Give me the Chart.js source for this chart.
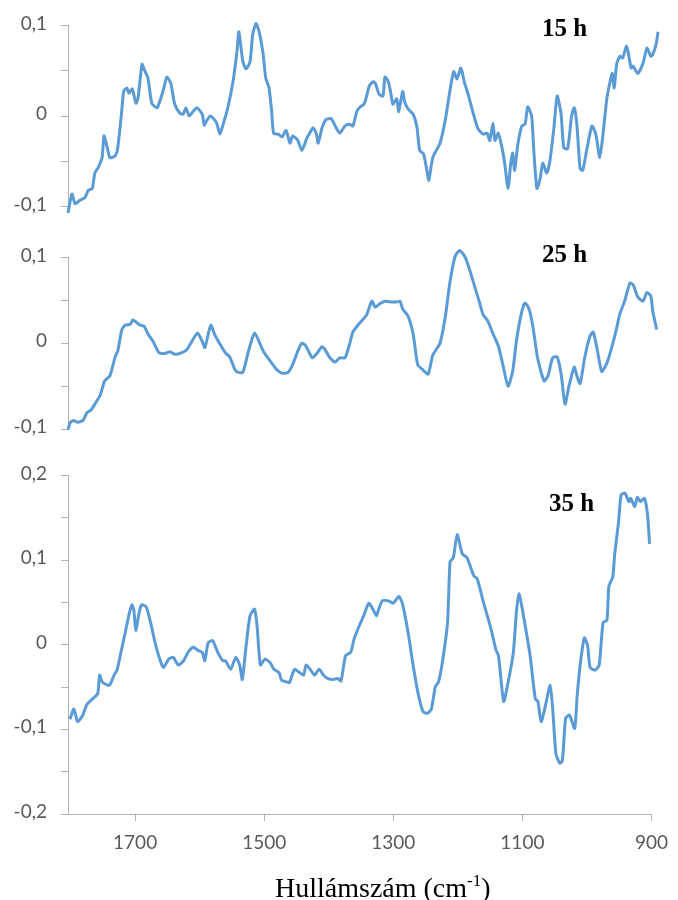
<!DOCTYPE html>
<html>
<head>
<meta charset="utf-8">
<script src="https://cdn.jsdelivr.net/npm/chart.js@4.4.1/dist/chart.umd.min.js"></script>
<style>
  html, body { margin: 0; padding: 0; background: #fff; }
  #wrap { position: relative; width: 678px; height: 900px; overflow: hidden; }
  #wrap canvas { position: absolute; left: 0; }
  .lbl { position: absolute; font-family: "Liberation Serif", "Times New Roman", serif; color: #000; white-space: nowrap; }
  .panel { font-weight: bold; font-size: 25px; line-height: 25px; }
  .xtitle { font-size: 28px; line-height: 28px; }
  .xtitle span { font-size: 17px; position: relative; top: -11px; }
</style>
</head>
<body>
<div id="wrap">
  <canvas id="c15" width="678" height="232" style="top:0px"></canvas>
  <canvas id="c25" width="678" height="228" style="top:232px"></canvas>
  <canvas id="c35" width="678" height="450" style="top:450px"></canvas>
  <div class="lbl panel" id="t15" style="left:542px; top:15px"></div>
  <div class="lbl panel" id="t25" style="left:542px; top:241px"></div>
  <div class="lbl panel" id="t35" style="left:549px; top:490px"></div>
  <div class="lbl xtitle" style="left:275px; top:874px">Hullámszám (cm<span>-1</span>)</div>
</div>
<script>
// Difference spectra after 15, 25 and 35 hours (wavenumber in cm-1, absorbance difference)
const panelLabels = ['15 h', '25 h', '35 h'];

const wn15 = [1804,1798,1793,1786,1778,1773,1767,1763,1758,1752,1749,1744,1740,1732,1728,1722,1719,1714,1711,1706,
  1703,1700,1697,1691,1688,1682,1676,1668,1664,1659,1653,1647,1641,1633,1628,1624,1619,1613,1607,1599,
  1596,1592,1587,1583,1577,1572,1567,1560,1552,1546,1543,1537,1532,1526,1522,1517,1512,1506,1502,1497,
  1493,1490,1483,1477,1471,1465,1461,1453,1447,1439,1435,1430,1425,1422,1416,1410,1402,1396,1389,1381,
  1374,1369,1363,1358,1352,1348,1344,1338,1334,1329,1323,1320,1315,1311,1308,1302,1299,1293,1290,1285,
  1277,1271,1267,1261,1256,1253,1247,1236,1228,1221,1215,1210,1204,1199,1193,1186,1178,1170,1164,1160,
  1155,1152,1147,1141,1137,1132,1128,1125,1122,1117,1111,1106,1102,1096,1093,1088,1083,1079,1073,1068,
  1062,1057,1051,1047,1041,1035,1031,1027,1022,1018,1012,1004,998,992,987,981,973,970,966,961,
  957,951,944,941,934,926,920,914,911,906,903];
const val15 = [-0.107,-0.086,-0.097,-0.093,-0.090,-0.082,-0.080,-0.063,-0.057,-0.046,-0.022,-0.035,-0.046,-0.044,-0.035,0.005,0.027,0.031,0.025,0.030,
  0.022,0.014,0.020,0.057,0.052,0.042,0.014,0.009,0.016,0.027,0.043,0.036,0.013,0.003,0.002,0.009,0.000,0.005,0.009,0.002,
  -0.010,-0.005,0.000,-0.002,-0.008,-0.020,-0.009,0.009,0.038,0.071,0.093,0.060,0.052,0.060,0.090,0.102,0.093,0.068,0.042,0.031,
  0.005,-0.019,-0.020,-0.023,-0.016,-0.030,-0.022,-0.027,-0.038,-0.024,-0.019,-0.013,-0.019,-0.030,-0.013,-0.004,-0.003,-0.011,-0.019,-0.011,
  -0.009,-0.011,0.005,0.010,0.013,0.022,0.033,0.038,0.035,0.024,0.022,0.043,0.038,0.025,0.013,0.019,0.005,0.027,0.016,0.008,
  0.002,-0.013,-0.038,-0.042,-0.060,-0.071,-0.046,-0.030,-0.005,0.027,0.049,0.041,0.053,0.038,0.024,0.005,-0.014,-0.020,-0.019,-0.027,
  -0.008,-0.027,-0.019,-0.036,-0.053,-0.080,-0.053,-0.041,-0.060,-0.031,-0.011,-0.009,0.010,0.000,-0.035,-0.080,-0.069,-0.052,-0.063,-0.049,
  -0.013,0.022,0.002,-0.035,-0.036,0.000,0.009,-0.009,-0.058,-0.060,-0.038,-0.011,-0.020,-0.046,-0.020,0.020,0.047,0.031,0.058,0.066,
  0.064,0.077,0.053,0.055,0.047,0.058,0.075,0.066,0.068,0.079,0.093];

const wn25 = [1804,1801,1796,1789,1781,1775,1769,1763,1755,1748,1740,1732,1728,1722,1717,1709,1705,1699,1694,1688,
  1682,1674,1665,1656,1648,1641,1630,1622,1615,1606,1599,1595,1586,1580,1572,1564,1557,1549,1544,1537,
  1529,1523,1519,1514,1506,1496,1485,1477,1468,1461,1453,1447,1441,1431,1424,1416,1412,1404,1396,1389,
  1381,1374,1369,1358,1348,1340,1335,1328,1320,1309,1302,1297,1293,1285,1277,1270,1262,1254,1247,1236,
  1228,1221,1213,1206,1198,1190,1183,1175,1170,1163,1155,1147,1140,1132,1125,1119,1111,1106,1100,1094,
  1087,1077,1071,1064,1057,1051,1045,1039,1031,1027,1022,1015,1007,1002,996,989,981,973,967,961,
  954,946,941,934,926,920,914,911,905];
const val25 = [-0.101,-0.093,-0.090,-0.092,-0.090,-0.081,-0.078,-0.071,-0.061,-0.044,-0.038,-0.016,-0.009,0.015,0.021,0.022,0.027,0.024,0.021,0.020,
  0.011,0.002,-0.011,-0.012,-0.010,-0.013,-0.011,-0.007,0.002,0.012,0.002,-0.005,0.021,0.010,-0.001,-0.011,-0.016,-0.031,-0.034,-0.034,
  -0.011,0.005,0.012,0.005,-0.009,-0.020,-0.031,-0.035,-0.034,-0.025,-0.009,0.000,-0.003,-0.017,-0.012,-0.004,-0.007,-0.017,-0.022,-0.017,
  -0.017,-0.001,0.013,0.024,0.033,0.049,0.042,0.046,0.049,0.048,0.048,0.049,0.040,0.032,0.011,-0.025,-0.031,-0.036,-0.014,0.000,
  0.030,0.070,0.101,0.108,0.101,0.084,0.066,0.046,0.033,0.026,0.011,-0.003,-0.025,-0.050,-0.033,0.004,0.037,0.047,0.040,0.019,
  -0.017,-0.044,-0.038,-0.017,-0.016,-0.036,-0.071,-0.050,-0.028,-0.038,-0.047,-0.017,0.008,0.013,-0.007,-0.033,-0.023,-0.003,0.015,0.035,
  0.049,0.070,0.068,0.054,0.049,0.059,0.055,0.037,0.016];

const wn35 = [1801,1795,1789,1781,1775,1766,1758,1755,1751,1740,1732,1728,1722,1716,1709,1705,1702,1699,1694,1690,
  1683,1676,1668,1660,1656,1648,1641,1633,1625,1618,1610,1602,1596,1592,1587,1580,1572,1564,1560,1552,
  1544,1538,1534,1528,1522,1515,1511,1506,1499,1491,1485,1477,1473,1465,1461,1453,1445,1439,1435,1428,
  1422,1415,1408,1401,1393,1386,1381,1374,1366,1361,1354,1346,1338,1331,1326,1323,1317,1309,1305,1300,
  1294,1291,1286,1277,1270,1262,1254,1247,1241,1235,1230,1224,1216,1212,1207,1201,1193,1186,1175,1170,
  1160,1149,1141,1137,1129,1122,1114,1109,1105,1099,1088,1080,1076,1071,1064,1057,1053,1048,1042,1038,
  1033,1027,1019,1015,1010,1004,999,995,987,981,975,969,966,960,957,951,947,941,935,932,
  926,922,917,911,906,903];
const val35 = [-0.088,-0.076,-0.091,-0.083,-0.071,-0.064,-0.058,-0.036,-0.044,-0.048,-0.035,-0.030,-0.009,0.012,0.037,0.047,0.041,0.017,0.037,0.047,
  0.045,0.026,-0.001,-0.021,-0.027,-0.017,-0.015,-0.024,-0.019,-0.009,-0.003,-0.007,-0.009,-0.019,0.002,0.005,-0.009,-0.019,-0.019,-0.029,
  -0.015,-0.024,-0.041,-0.001,0.034,0.042,0.022,-0.024,-0.017,-0.021,-0.029,-0.033,-0.042,-0.044,-0.045,-0.029,-0.033,-0.036,-0.024,-0.030,
  -0.036,-0.029,-0.036,-0.040,-0.041,-0.040,-0.043,-0.013,-0.009,0.006,0.020,0.034,0.049,0.041,0.034,0.041,0.052,0.052,0.051,0.049,
  0.055,0.057,0.049,0.014,-0.021,-0.056,-0.079,-0.081,-0.076,-0.050,-0.044,-0.021,0.026,0.098,0.103,0.130,0.107,0.103,0.081,0.078,
  0.049,0.020,-0.006,-0.013,-0.067,-0.044,-0.009,0.041,0.060,0.037,-0.013,-0.064,-0.067,-0.091,-0.071,-0.048,-0.076,-0.129,-0.140,-0.137,
  -0.087,-0.083,-0.099,-0.059,-0.021,0.008,-0.001,-0.027,-0.030,-0.024,0.026,0.029,0.069,0.080,0.107,0.145,0.177,0.179,0.169,0.173,
  0.163,0.174,0.169,0.173,0.153,0.119];

// Axis ticks
const xTickValues = [1700, 1500, 1300, 1100, 900];
const yTicksSmall = [-0.1, -0.05, 0, 0.05, 0.1];
const yTicksLarge = [-0.2, -0.15, -0.1, -0.05, 0, 0.05, 0.1, 0.15, 0.2];

const X_MIN = 900, X_MAX = 1804;
const LINE = '#5B9BD5';
const AXIS = '#B3B3B3';
const TICK_TEXT = '#595959';

function fmtTick(v) {
  const t = Math.round(v * 10);
  if (Math.abs(v * 10 - t) > 1e-6) return '';
  if (t === 0) return '0';
  return (t / 10).toString().replace('.', ',');
}

function makeChart(id, wn, vals, yTicks, showX, padTop, padBottom) {
  const pts = wn.map((x, i) => ({ x: x, y: vals[i] }));
  return new Chart(document.getElementById(id), {
    type: 'line',
    data: {
      datasets: [{
        data: pts,
        borderColor: LINE,
        borderWidth: 3,
        pointRadius: 0,
        tension: 0.2,
        fill: false,
        clip: false
      }]
    },
    options: {
      responsive: false,
      animation: false,
      devicePixelRatio: 1,
      layout: { padding: { top: padTop, bottom: padBottom, left: 0, right: 18 } },
      plugins: { legend: { display: false }, tooltip: { enabled: false }, title: { display: false } },
      scales: {
        x: {
          type: 'linear',
          reverse: true,
          min: X_MIN,
          max: X_MAX,
          display: showX,
          afterBuildTicks: s => { s.ticks = xTickValues.map(v => ({ value: v })); },
          afterFit: s => { s.height = showX ? 86 : 0; },
          grid: { drawOnChartArea: false, drawTicks: true, tickLength: 7, color: AXIS, lineWidth: 1 },
          border: { display: true, color: AXIS, width: 1 },
          ticks: {
            color: TICK_TEXT,
            padding: 10,
            maxRotation: 0,
            autoSkip: false,
            font: { family: 'Lato, "Liberation Sans", sans-serif', size: 19 },
            callback: v => String(v)
          }
        },
        y: {
          type: 'linear',
          min: yTicks[0],
          max: yTicks[yTicks.length - 1],
          afterBuildTicks: s => { s.ticks = yTicks.map(v => ({ value: v })); },
          afterFit: s => { s.width = 68; },
          grid: { drawOnChartArea: false, drawTicks: true, tickLength: 7, color: AXIS, lineWidth: 1 },
          border: { display: true, color: AXIS, width: 1 },
          ticks: {
            color: TICK_TEXT,
            padding: 14,
            labelOffset: -2,
            autoSkip: false,
            font: { family: 'Lato, "Liberation Sans", sans-serif', size: 19 },
            callback: v => fmtTick(v)
          }
        }
      }
    }
  });
}

makeChart('c15', wn15, val15, yTicksSmall, false, 25, 25);
makeChart('c25', wn25, val25, yTicksSmall, false, 14, 31);
makeChart('c35', wn35, val35, yTicksLarge, true, 20, 0);

document.getElementById('t15').textContent = panelLabels[0];
document.getElementById('t25').textContent = panelLabels[1];
document.getElementById('t35').textContent = panelLabels[2];
</script>
</body>
</html>
